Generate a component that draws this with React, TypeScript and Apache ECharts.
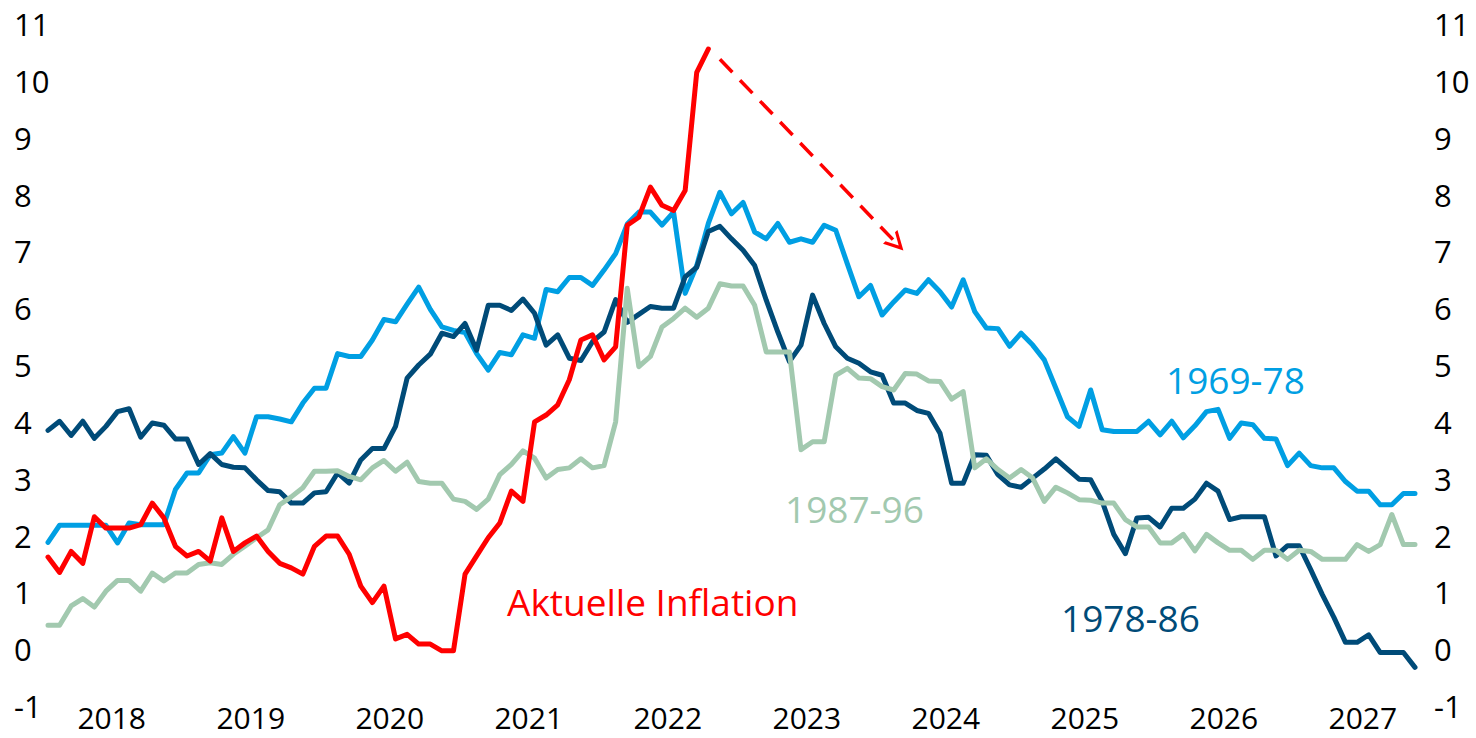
import React, { useEffect, useRef } from "react";
import * as echarts from "echarts";

// Year labels on the x axis (monthly data, Jan 2018 .. Nov 2027)
const years = ["2018", "2019", "2020", "2021", "2022", "2023", "2024", "2025", "2026", "2027"];
const monthCount = 119;
const months: string[] = [];
for (let i = 0; i < monthCount; i++) {
  months.push(`${years[Math.floor(i / 12)]}-${String((i % 12) + 1).padStart(2, "0")}`);
}

// Inflation paths (% yoy), aligned month by month
const s1969_78 = [
  1.88, 2.18, 2.18, 2.18, 2.18, 2.18, 1.87, 2.22, 2.19, 2.19, 2.19, 2.81,
  3.10, 3.10, 3.42, 3.45, 3.74, 3.45, 4.09, 4.09, 4.05, 4.00, 4.33, 4.59,
  4.59, 5.20, 5.15, 5.15, 5.44, 5.80, 5.76, 6.07, 6.37, 5.98, 5.67, 5.61,
  5.57, 5.20, 4.91, 5.22, 5.18, 5.53, 5.47, 6.33, 6.29, 6.54, 6.54, 6.40,
  6.67, 6.96, 7.48, 7.69, 7.69, 7.46, 7.69, 6.26, 6.75, 7.49, 8.04, 7.66,
  7.86, 7.34, 7.22, 7.49, 7.16, 7.22, 7.16, 7.46, 7.37, 6.78, 6.20, 6.40,
  5.88, 6.11, 6.32, 6.26, 6.50, 6.29, 6.02, 6.50, 5.94, 5.65, 5.64, 5.33,
  5.56, 5.35, 5.09, 4.59, 4.09, 3.92, 4.56, 3.86, 3.83, 3.83, 3.83, 4.01,
  3.77, 4.01, 3.72, 3.93, 4.18, 4.22, 3.71, 3.98, 3.95, 3.71, 3.70, 3.23,
  3.45, 3.23, 3.19, 3.19, 2.95, 2.78, 2.78, 2.54, 2.54, 2.74, 2.74,
];
const s1978_86 = [
  3.85, 4.01, 3.76, 4.01, 3.71, 3.92, 4.18, 4.23, 3.73, 3.98, 3.94, 3.70,
  3.70, 3.25, 3.44, 3.25, 3.20, 3.19, 2.98, 2.79, 2.77, 2.57, 2.57, 2.75,
  2.77, 3.10, 2.92, 3.33, 3.53, 3.53, 3.92, 4.77, 5.00, 5.19, 5.56, 5.50,
  5.73, 5.26, 6.05, 6.05, 5.96, 6.16, 5.91, 5.35, 5.53, 5.12, 5.08, 5.41,
  5.58, 6.15, 5.75, 5.89, 6.03, 6.00, 6.00, 6.55, 6.72, 7.35, 7.44, 7.22,
  7.02, 6.75, 6.14, 5.58, 5.06, 5.35, 6.23, 5.73, 5.32, 5.12, 5.03, 4.88,
  4.82, 4.33, 4.33, 4.20, 4.15, 3.80, 2.92, 2.92, 3.42, 3.41, 3.07, 2.89,
  2.85, 3.01, 3.17, 3.35, 3.17, 2.99, 2.98, 2.60, 2.02, 1.68, 2.31, 2.32,
  2.15, 2.48, 2.48, 2.64, 2.92, 2.78, 2.28, 2.33, 2.33, 2.33, 1.64, 1.82,
  1.82, 1.40, 0.96, 0.56, 0.12, 0.12, 0.25, -0.06, -0.06, -0.06, -0.32,
];
const s1987_96 = [
  0.42, 0.42, 0.76, 0.89, 0.74, 1.02, 1.21, 1.21, 1.02, 1.34, 1.20, 1.34,
  1.34, 1.49, 1.52, 1.49, 1.67, 1.81, 1.96, 2.10, 2.54, 2.68, 2.84, 3.13,
  3.13, 3.14, 3.04, 2.98, 3.19, 3.32, 3.13, 3.29, 2.95, 2.92, 2.92, 2.64,
  2.60, 2.46, 2.64, 3.07, 3.25, 3.49, 3.36, 3.01, 3.16, 3.19, 3.35, 3.19,
  3.23, 4.00, 6.35, 4.97, 5.15, 5.67, 5.82, 6.00, 5.84, 6.00, 6.43, 6.39,
  6.39, 6.05, 5.23, 5.23, 5.23, 3.51, 3.65, 3.65, 4.82, 4.94, 4.77, 4.76,
  4.62, 4.56, 4.85, 4.84, 4.72, 4.71, 4.40, 4.53, 3.19, 3.35, 3.16, 3.01,
  3.16, 3.01, 2.60, 2.85, 2.75, 2.63, 2.62, 2.57, 2.57, 2.28, 2.15, 2.15,
  1.87, 1.87, 2.02, 1.73, 2.02, 1.87, 1.74, 1.74, 1.58, 1.74, 1.74, 1.58,
  1.74, 1.72, 1.58, 1.58, 1.58, 1.84, 1.72, 1.84, 2.37, 1.84, 1.84,
];
const sAktuell = [
  1.62, 1.35, 1.72, 1.51, 2.33, 2.13, 2.13, 2.13, 2.19, 2.57, 2.31, 1.81,
  1.64, 1.72, 1.55, 2.31, 1.72, 1.87, 1.99, 1.72, 1.51, 1.43, 1.32, 1.81,
  1.99, 1.99, 1.67, 1.11, 0.82, 1.11, 0.18, 0.26, 0.09, 0.09, -0.03, -0.03,
  1.32, 1.64, 1.96, 2.22, 2.78, 2.60, 4.00, 4.12, 4.30, 4.74, 5.44, 5.53,
  5.09, 5.32, 7.46, 7.60, 8.13, 7.81, 7.72, 8.07, 10.15, 10.56,
];

// Dashed arrow (month index, value)
const arrowStart = [58.0, 10.38];
const arrowEnd = [73.27, 7.135];

const seriesNames = ["1969-78", "1978-86", "1987-96", "Aktuelle Inflation"];
const colors = ["#009FE3", "#004B78", "#A2C9AF", "#FF0000"];

const FONT = "'Open Sans', 'Noto Sans', sans-serif";

function toPairs(arr: number[]) {
  return arr.map((v, i) => [i, v]);
}

export default function App() {
  const ref = useRef<HTMLDivElement>(null);
  useEffect(() => {
    document.body.style.margin = "0";
    const chart = echarts.init(ref.current!, undefined, { renderer: "svg" });
    const yearCenters = years.map((_, k) => 12 * k + 5.5);
    const yAxisCommon = {
      type: "value" as const,
      min: -1,
      max: 11,
      interval: 1,
      axisLine: { show: false },
      axisTick: { show: false },
      splitLine: { show: false },
    };
    const lineSeries = (data: number[], idx: number, extra: any = {}) => ({
      name: seriesNames[idx],
      type: "line",
      data: toPairs(data),
      showSymbol: false,
      symbol: "none",
      smooth: false,
      lineStyle: { color: colors[idx], width: 5, join: "round", cap: "round" },
      itemStyle: { color: colors[idx] },
      z: 2 + idx,
      ...extra,
    });
    const annot = (text: string, x: number, y: number, color: string) => ({
      type: "text",
      x,
      y,
      style: {
        text,
        fill: color,
        fontSize: 37,
        fontFamily: FONT,
        align: "left",
        verticalAlign: "middle",
        textAlign: "left",
        textVerticalAlign: "middle",
      },
    });
    chart.setOption({
      animation: false,
      backgroundColor: "#ffffff",
      textStyle: { fontFamily: FONT },
      grid: { left: 48, right: 61, top: 24, bottom: 32, containLabel: false },
      xAxis: {
        type: "value",
        min: 0,
        max: monthCount - 1,
        axisLine: { show: false },
        axisTick: { show: false },
        splitLine: { show: false },
        axisLabel: {
          customValues: yearCenters,
          formatter: (v: number) => years[Math.floor(v / 12)] ?? "",
          fontSize: 30,
          lineHeight: 22,
          fontFamily: FONT,
          color: "#000",
          margin: 0,
        },
      },
      yAxis: [
        {
          ...yAxisCommon,
          position: "left",
          axisLabel: { fontSize: 31, fontFamily: FONT, color: "#000", align: "left", margin: 34 },
        },
        {
          ...yAxisCommon,
          position: "right",
          axisLabel: { fontSize: 31, fontFamily: FONT, color: "#000", align: "left", margin: 19 },
        },
      ],
      series: [
        lineSeries(s1969_78, 0),
        lineSeries(s1978_86, 1),
        lineSeries(s1987_96, 2),
        lineSeries(sAktuell, 3, {
          markLine: {
            silent: true,
            symbol: ["none", "path://M0,19 L10,0 L20,19 L16.6,19 L10,6.8 L3.4,19 Z"],
            symbolSize: [20, 19],
            label: { show: false },
            lineStyle: { color: colors[3], width: 3.5, type: [18, 11] },
            data: [[{ coord: arrowStart }, { coord: arrowEnd }]],
          },
        }),
      ],
      graphic: [
        annot("1969-78", 1166, 379, colors[0]),
        annot("1987-96", 785, 508, colors[2]),
        annot("Aktuelle Inflation", 507, 601, colors[3]),
        annot("1978-86", 1061, 617, colors[1]),
      ],
    });
    return () => chart.dispose();
  }, []);
  return <div ref={ref} style={{ width: 1476, height: 738 }} />;
}
